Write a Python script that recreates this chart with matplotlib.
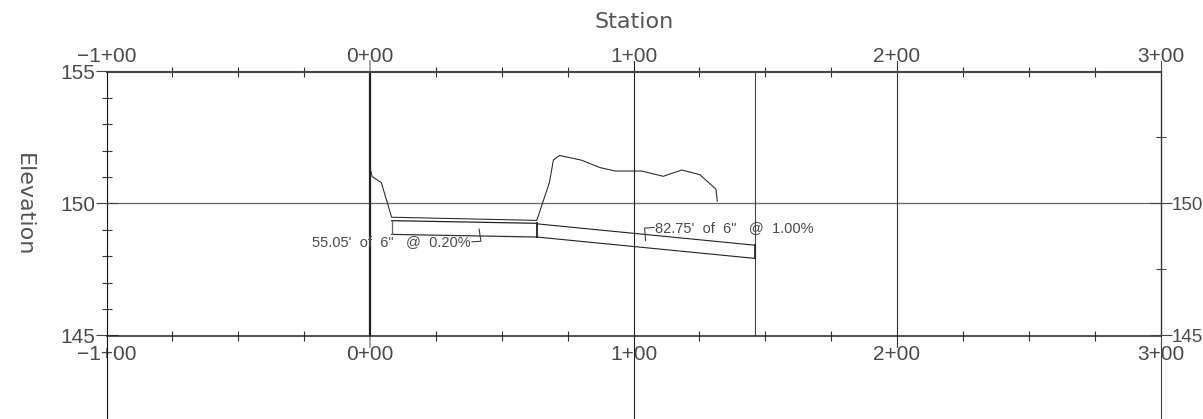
import matplotlib
matplotlib.use("Agg")
import matplotlib.pyplot as plt

# ---- data ----
station_ticks = [-100, 0, 100, 200, 300]
station_labels = ["\u22121+00", "0+00", "1+00", "2+00", "3+00"]
station_minor = [-75, -50, -25, 25, 50, 75, 125, 150, 175, 225, 250, 275]
elev_ticks = [145, 150, 155]
elev_labels = ["145", "150", "155"]
elev_ticks_right = [145, 150]
elev_labels_right = ["145", "150"]
elev_minor_left = [146, 147, 148, 149, 151, 152, 153, 154]
elev_minor_right = [147.5, 152.5]

ground_sta = [0.4, 0.8, 4.3, 8.2, 63.3, 68.1, 69.6, 71.9, 80.3, 87.3, 93.0, 103.1, 111.3, 118.3, 125.2, 131.3, 131.8]
ground_elev = [151.21, 151.02, 150.79, 149.48, 149.36, 150.80, 151.65, 151.82, 151.64, 151.36, 151.23, 151.23, 151.03, 151.27, 151.09, 150.54, 150.09]

pipe1_sta = [8.2, 63.3]
pipe1_top = [149.35, 149.25]
pipe1_bot = [148.83, 148.73]
pipe2_sta = [63.3, 146.1]
pipe2_top = [149.23, 148.42]
pipe2_bot = [148.73, 147.92]

leader1_sta = [41.4, 42.1, 38.7]
leader1_elev = [149.03, 148.57, 148.55]
leader2_sta = [104.6, 104.2, 107.8]
leader2_elev = [148.59, 149.07, 149.09]

label1 = "55.05'  of  6\"   @  0.20%"
label2 = "82.75'  of  6\"   @  1.00%"

W, H = 1203, 419
FONT = "Liberation Sans"
TICK_SIZE = 15
RIGHT_SIZE = 13.5
TXT = "#4a4a4a"

fig = plt.figure(figsize=(W / 100, H / 100), dpi=100, facecolor="white")
ax = fig.add_axes([106.5 / W, 1 - 335.5 / H, 1054 / W, 264 / H])
ax.set_xlim(-100, 300)
ax.set_ylim(145, 155)

for s, lw, c in [("top", 1.5, "#444444"), ("bottom", 1.1, "#222222"),
                 ("left", 0.8, "#111111"), ("right", 0.9, "#333333")]:
    ax.spines[s].set_linewidth(lw)
    ax.spines[s].set_color(c)

ax.set_xticks(station_ticks, station_labels, family=FONT, fontsize=TICK_SIZE, color=TXT)
ax.set_xticks(station_minor, minor=True)
ax.tick_params(axis="x", which="major", length=0, pad=6.5, top=True, labeltop=True)
ax.tick_params(axis="x", which="minor", direction="inout", length=6.5, width=0.8,
               color="#333333", top=True)
for tick in ax.xaxis.get_major_ticks():
    tick.label2.set_verticalalignment("baseline")

ax.set_yticks(elev_ticks, elev_labels, family=FONT, fontsize=TICK_SIZE, color=TXT)
ax.set_yticks(elev_minor_left, minor=True)
ax.tick_params(axis="y", which="major", direction="inout", length=15.8, width=0.8,
               color="#444444", pad=0)
ax.tick_params(axis="y", which="minor", direction="inout", length=7.2, width=0.8,
               color="#333333")

axr = ax.twinx()
axr.set_ylim(145, 155)
for sp in axr.spines.values():
    sp.set_visible(False)
axr.set_yticks(elev_ticks_right, elev_labels_right, family=FONT, fontsize=RIGHT_SIZE, color=TXT)
axr.set_yticks(elev_minor_right, minor=True)
axr.tick_params(axis="y", which="major", direction="inout", length=15.8, width=0.8,
                color="#444444", pad=0)
axr.tick_params(axis="y", which="minor", direction="inout", length=7.2, width=0.8,
                color="#444444")

# grid and station lines, running past the frame
ax.axhline(150, color="#666666", lw=0.9, zorder=1)
ax.plot([-100, -100], [141.83, 145], color="#111111", lw=0.8, clip_on=False)
ax.plot([0, 0], [144.56, 155.38], color="#888888", lw=1.1, clip_on=False, zorder=1)
ax.plot([0, 0], [145, 155], color="#222222", lw=1.6, zorder=2)
ax.plot([100, 100], [141.83, 155.38], color="#222222", lw=0.8, clip_on=False)
ax.plot([200, 200], [144.56, 155.38], color="#333333", lw=0.8, clip_on=False)
ax.plot([300, 300], [141.83, 155.38], color="#444444", lw=0.8, clip_on=False)
ax.plot([pipe2_sta[1], pipe2_sta[1]], [145, 155], color="#444444", lw=0.8)

# ground profile
ax.plot(ground_sta, ground_elev, color="#222222", lw=0.75)

# pipes
ax.plot(pipe1_sta, pipe1_top, color="#222222", lw=0.9)
ax.plot(pipe1_sta, pipe1_bot, color="#333333", lw=0.9)
ax.plot(pipe2_sta, pipe2_top, color="#222222", lw=0.8)
ax.plot(pipe2_sta, pipe2_bot, color="#222222", lw=0.8)
ax.plot([pipe1_sta[0]] * 2, [pipe1_top[0], pipe1_bot[0]], color="#666666", lw=0.9)
ax.plot([pipe1_sta[1]] * 2, [pipe1_top[1], pipe1_bot[1]], color="#222222", lw=1.3)
ax.plot([pipe2_sta[1]] * 2, [pipe2_top[1], pipe2_bot[1]], color="#222222", lw=1.2)

# leaders and notes
ax.plot(leader1_sta, leader1_elev, color="#333333", lw=0.75)
ax.plot(leader2_sta, leader2_elev, color="#333333", lw=0.75)
ax.text(38.0, 148.55, label1, family=FONT, fontsize=10.5, color=TXT, ha="right", va="center")
ax.text(108.2, 149.07, label2, family=FONT, fontsize=10.5, color=TXT, ha="left", va="center")

# axis titles
fig.text(634 / W, 1 - 22 / H, "Station", family="DejaVu Sans", fontsize=16, color="#555555",
         ha="center", va="center")
fig.text(24 / W, 1 - 205 / H, "Elevation", family="DejaVu Sans", fontsize=16, color="#555555",
         rotation=-90, ha="center", va="center")

fig.savefig("out.png", dpi=100, facecolor="white")
